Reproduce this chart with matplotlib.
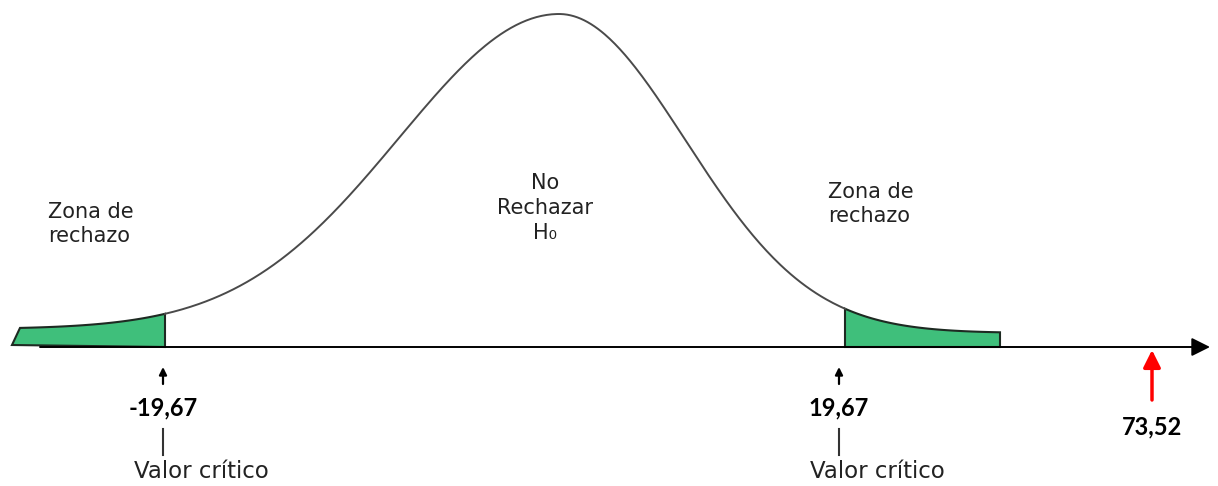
import numpy as np
from matplotlib import pyplot as plt

# schematic positions along the axis (drawing units, not to scale)
curve_mean = 559
curve_top = 333
sigma_left = 160
sigma_right = 126
tail_left = 18
tail_right = 14

crit_pos = [165, 841]
crit_labels = ['-19,67', '19,67']
reject_left = [12, 165]      # left shaded tail
reject_right = [845, 1000]   # right shaded tail
stat_pos = 1152
stat_label = '73,52'
axis_end = 1210

GREEN = '#3fbf7b'


def density(x):
    '''split normal shape used for the sketch'''
    left = x < curve_mean
    s = np.where(left, sigma_left, sigma_right)
    base = np.where(left, tail_left, tail_right)
    return base + (curve_top - base) * np.exp(-0.5 * ((x - curve_mean) / s) ** 2)


fig = plt.figure(figsize=(12.18, 4.86), dpi=100)
ax = fig.add_axes([0, 0, 1, 1])
ax.set_xlim(0, 1218)
ax.set_ylim(-139, 347)
ax.axis('off')

# axis with arrow
ax.annotate('', xy=(axis_end, 0), xytext=(40, 0),
            arrowprops=dict(arrowstyle='-|>', mutation_scale=28, color='black', lw=1.4,
                            shrinkA=0, shrinkB=0))

# bell curve
x = np.linspace(reject_left[1], reject_right[0], 400)
ax.plot(x, density(x), color='#4a4a4a', lw=1.4)

# rejection zones
xl = np.linspace(reject_left[0] + 8, reject_left[1], 100)
px = np.concatenate([[reject_left[0]], xl, [reject_left[1]]])
py = np.concatenate([[2], density(xl), [0]])
ax.fill(px, py, facecolor=GREEN, edgecolor='#1e2a22', lw=1.5)

xr = np.linspace(reject_right[0], reject_right[1], 100)
px = np.concatenate([[reject_right[0]], xr, [reject_right[1]]])
py = np.concatenate([[0], density(xr), [0]])
ax.fill(px, py, facecolor=GREEN, edgecolor='#1e2a22', lw=1.5)

# texts in the chart
txt = dict(family='DejaVu Sans', fontsize=15, color='#222222')
ax.text(48, 123, 'Zona de\nrechazo', ha='left', va='center', linespacing=1.2, **txt)
ax.text(828, 143, 'Zona de\nrechazo', ha='left', va='center', linespacing=1.2, **txt)
ax.text(545, 139, 'No\nRechazar\nH\u2080', ha='center', va='center', linespacing=1.3, **txt)

# critical values
for pos, lab in zip(crit_pos, crit_labels):
    ax.annotate('', xy=(pos - 2, -20), xytext=(pos - 2, -37),
                arrowprops=dict(arrowstyle='-|>', mutation_scale=11, color='black', lw=1.6,
                                shrinkA=0, shrinkB=0))
    ax.text(pos - 2, -61, lab, ha='center', va='center', family='Lato',
            fontweight='bold', fontsize=17, color='black')
    ax.plot([pos - 2, pos - 2], [-82, -108], color='#333333', lw=1.5)
    ax.text(pos + 36, -124, 'Valor crítico', ha='center', va='center',
            family='DejaVu Sans', fontsize=16.5, color='#222222')

# test statistic
ax.annotate('', xy=(stat_pos, -3), xytext=(stat_pos, -53),
            arrowprops=dict(arrowstyle='-|>', mutation_scale=26, color='red', lw=2.5,
                            shrinkA=0, shrinkB=0))
ax.text(stat_pos, -80, stat_label, ha='center', va='center', family='Lato',
        fontweight='bold', fontsize=17, color='black')

fig.savefig('out.png', dpi=100)
